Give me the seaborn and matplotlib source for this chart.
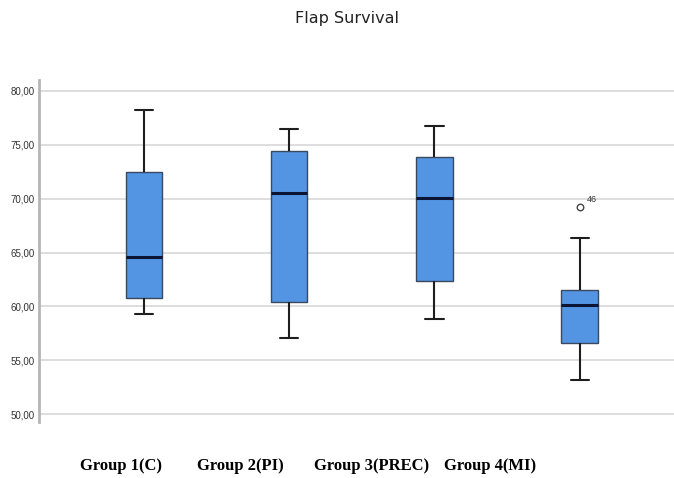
import numpy as np
import pandas as pd
import matplotlib
matplotlib.use("Agg")
import matplotlib.pyplot as plt
import seaborn as sns

# Five-number summaries: min, Q1, median, Q3, max (whisker ends)
groups = ["Group 1(C)", "Group 2(PI)", "Group 3(PREC)", "Group 4(MI)"]
g1 = [59.3, 60.8, 64.6, 72.5, 78.2]
g2 = [57.1, 60.4, 70.5, 74.4, 76.5]
g3 = [58.8, 62.4, 70.1, 73.9, 76.7]
g4 = [53.2, 56.6, 60.1, 61.5, 66.3]
outlier_group = "Group 4(MI)"
outlier_value = 69.2
outlier_label = "46"
yticks = [50, 55, 60, 65, 70, 75, 80]
ytick_labels = ["50,00", "55,00", "60,00", "65,00", "70,00", "75,00", "80,00"]
title = "Flap Survival"

df = pd.DataFrame({
    "group": np.repeat(groups, 5),
    "value": g1 + g2 + g3 + g4,
})

sns.set_style("white")
fig = plt.figure(figsize=(6.74, 4.78), dpi=100)
ax = fig.add_axes([0.0579, 0.117, 0.9421, 0.716])

for y in yticks:
    ax.axhline(y, color="#d4d4d4", lw=1.1, zorder=0)

sns.boxplot(
    data=df, x="group", y="value", order=groups, ax=ax,
    width=0.25, color="#5394E3", saturation=1,
    linecolor="#333333", linewidth=1.1,
    boxprops=dict(edgecolor="#3a4a5e", linewidth=1.0),
    whiskerprops=dict(color="#1e1e1e", linewidth=1.5),
    capprops=dict(color="#1e1e1e", linewidth=1.5),
    medianprops=dict(color="#0b1433", linewidth=2.2),
    showfliers=False, zorder=3,
)

out_df = pd.DataFrame({"group": [outlier_group], "value": [outlier_value]})
sns.scatterplot(data=out_df, x="group", y="value", ax=ax, marker="o",
                s=22, facecolor="white", edgecolor="#444444", linewidth=1.0,
                zorder=4, legend=False)
xi = groups.index(outlier_group)
ax.annotate(outlier_label, (xi, outlier_value), xytext=(5, 4),
            textcoords="offset points", fontsize=6.5, color="#333333",
            family="Liberation Sans")

ax.set_xlim(-0.724, 3.65)
ax.set_ylim(49.27, 81.02)
ax.set_yticks(yticks)
ax.set_yticklabels(ytick_labels, fontsize=7, color="#333333", family="Liberation Sans")
ax.tick_params(axis="y", length=0, pad=3)
ax.set_xticks([])
ax.set_xlabel("")
ax.set_ylabel("")
for s in ["top", "right", "bottom"]:
    ax.spines[s].set_visible(False)
ax.spines["left"].set_color("#b5b5b5")
ax.spines["left"].set_linewidth(2.0)

# Category labels (placed as in the reference, offset from the boxes)
label_x = [121, 240, 371.5, 490.5]
for lx, name in zip(label_x, groups):
    fig.text(lx / 674, 1 - 466 / 478, name, ha="center", va="center",
             fontsize=12, fontweight="bold", family="Liberation Serif", color="black")

fig.text(347 / 674, 1 - 19 / 478, title, ha="center", va="center",
         fontsize=11.5, color="#222222")

fig.savefig("out.png", dpi=100)
